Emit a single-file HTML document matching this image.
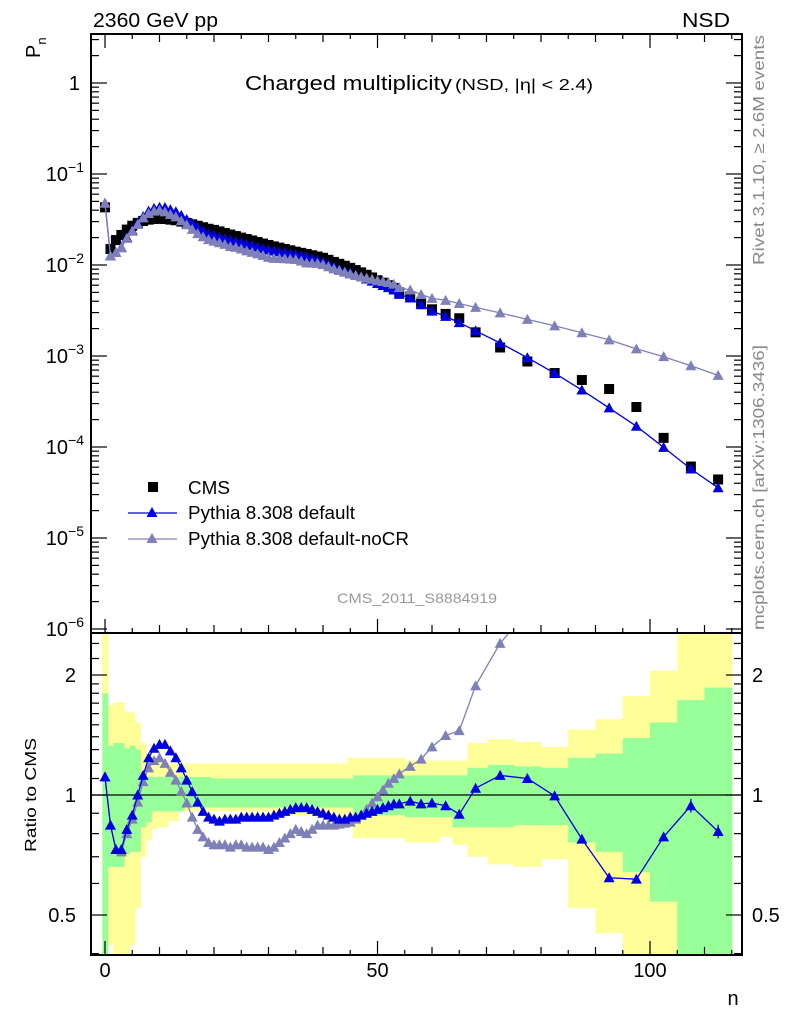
<!DOCTYPE html>
<html><head><meta charset="utf-8"><style>
html,body{margin:0;padding:0;background:#fff;}
svg{display:block;font-family:"Liberation Sans",sans-serif;}
</style></head><body>
<svg id="c" width="786" height="1024" viewBox="0 0 786 1024" xmlns="http://www.w3.org/2000/svg">
<defs>
<clipPath id="clipMain"><rect x="91" y="34" width="651" height="599"/></clipPath>
<clipPath id="clipRatio"><rect x="91" y="633" width="651" height="322"/></clipPath>
</defs>
<g id="bands" clip-path="url(#clipRatio)"></g>
<g id="ratioMarks" clip-path="url(#clipRatio)"></g>
<g id="mainMarks" clip-path="url(#clipMain)"></g>
<g id="axes"></g>
<text x="93" y="27" font-size="20" textLength="125" lengthAdjust="spacingAndGlyphs">2360 GeV pp</text>
<text x="682" y="27" font-size="20" textLength="48" lengthAdjust="spacingAndGlyphs">NSD</text>
<text transform="translate(40,58) rotate(-90)" font-size="20">P<tspan font-size="13" dy="6">n</tspan></text>
<text x="245" y="90" font-size="20" textLength="207" lengthAdjust="spacingAndGlyphs">Charged multiplicity</text>
<text x="455" y="90" font-size="16" textLength="138" lengthAdjust="spacingAndGlyphs">(NSD, |η| &lt; 2.4)</text>
<text x="337" y="603" font-size="14" fill="#999" textLength="160" lengthAdjust="spacingAndGlyphs">CMS_2011_S8884919</text>
<text transform="translate(764,265) rotate(-90)" font-size="16" fill="#888" textLength="230" lengthAdjust="spacingAndGlyphs">Rivet 3.1.10, ≥ 2.6M events</text>
<text transform="translate(764,630) rotate(-90)" font-size="16" fill="#888" textLength="285" lengthAdjust="spacingAndGlyphs">mcplots.cern.ch [arXiv:1306.3436]</text>
<text transform="translate(36,852) rotate(-90)" font-size="16" textLength="114" lengthAdjust="spacingAndGlyphs">Ratio to CMS</text>
<text x="733" y="1005" font-size="20" text-anchor="middle">n</text>
<g>
<rect x="148" y="482" width="10" height="10" fill="#000"/>
<text x="188" y="494" font-size="18" textLength="42" lengthAdjust="spacingAndGlyphs">CMS</text>
<line x1="128" y1="513" x2="177" y2="513" stroke="#0000e0" stroke-width="1.3"/>
<path d="M152,507 L157.5,517 L146.5,517 Z" fill="#0000e0"/>
<text x="188" y="519" font-size="18" textLength="167" lengthAdjust="spacingAndGlyphs">Pythia 8.308 default</text>
<line x1="128" y1="539" x2="177" y2="539" stroke="#8080b8" stroke-width="1.3"/>
<path d="M152,533 L157.5,543 L146.5,543 Z" fill="#8080b8"/>
<text x="188" y="545" font-size="18" textLength="221" lengthAdjust="spacingAndGlyphs">Pythia 8.308 default-noCR</text>
</g>
</svg>
<script>
const nVals=[0,1,2,3,4,5,6,7,8,9,10,11,12,13,14,15,16,17,18,19,20,21,22,23,24,25,26,27,28,29,30,31,32,33,34,35,36,37,38,39,40,41,42,43,44,45,46,47,48,49,50,51,52,53,54,56,58,60,62.5,65,68,72.5,77.5,82.5,87.5,92.5,97.5,102.5,107.5,112.5];
const cmsVals=[0.043,0.015,0.0188,0.0214,0.0245,0.027,0.029,0.0305,0.0315,0.032,0.0322,0.032,0.0315,0.031,0.030,0.029,0.028,0.027,0.026,0.025,0.0243,0.0234,0.0225,0.0216,0.0208,0.0200,0.0193,0.0186,0.0179,0.0172,0.0166,0.0160,0.0155,0.0150,0.0145,0.0140,0.0136,0.0132,0.0128,0.0124,0.0120,0.0114,0.0108,0.0103,0.0098,0.0093,0.0088,0.0083,0.0078,0.0073,0.0068,0.0064,0.0060,0.0056,0.0050,0.0045,0.00385,0.00326,0.0029,0.0026,0.00182,0.00124,0.00087,0.00065,0.000545,0.000434,0.000275,0.000126,0.000061,0.000044];
const ratioDefault=[1.11,0.84,0.73,0.73,0.82,0.89,1.0,1.12,1.24,1.31,1.34,1.34,1.29,1.24,1.17,1.09,1.02,0.96,0.91,0.88,0.87,0.86,0.87,0.87,0.87,0.88,0.88,0.88,0.88,0.88,0.88,0.89,0.90,0.91,0.92,0.93,0.93,0.93,0.92,0.91,0.90,0.89,0.88,0.87,0.87,0.88,0.88,0.89,0.90,0.91,0.92,0.93,0.94,0.95,0.95,0.965,0.95,0.955,0.94,0.895,1.04,1.12,1.10,0.995,0.775,0.62,0.615,0.785,0.94,0.81];
const ratioNoCR=[1.11,0.84,0.73,0.72,0.80,0.87,0.96,1.08,1.17,1.22,1.24,1.20,1.14,1.09,1.02,0.955,0.88,0.82,0.785,0.76,0.75,0.75,0.75,0.74,0.75,0.75,0.74,0.74,0.74,0.74,0.73,0.74,0.76,0.78,0.80,0.82,0.81,0.80,0.82,0.84,0.84,0.84,0.84,0.845,0.85,0.855,0.87,0.89,0.92,0.955,0.99,1.03,1.07,1.10,1.13,1.18,1.23,1.32,1.41,1.45,1.88,2.40,2.9,3.3,3.3,3.46,4.36,7.8,12.8,13.9];
const yellowHi=[3,1.68,1.71,1.71,1.62,1.61,1.52,1.35,1.27,1.21,1.21,1.21,1.20,1.20,1.20,1.20,1.20,1.20,1.20,1.20,1.20,1.20,1.20,1.20,1.20,1.20,1.20,1.20,1.20,1.20,1.20,1.20,1.20,1.20,1.20,1.20,1.20,1.20,1.20,1.20,1.20,1.20,1.20,1.20,1.20,1.24,1.24,1.24,1.24,1.24,1.24,1.24,1.24,1.24,1.24,1.22,1.22,1.22,1.22,1.22,1.35,1.38,1.36,1.32,1.46,1.55,1.77,2.05,3,3];
const yellowLo=[0.3,0.42,0.3,0.3,0.3,0.42,0.52,0.70,0.77,0.82,0.83,0.83,0.86,0.86,0.91,0.91,0.91,0.91,0.91,0.91,0.91,0.91,0.91,0.91,0.91,0.91,0.91,0.91,0.91,0.91,0.91,0.89,0.89,0.89,0.89,0.89,0.89,0.89,0.89,0.89,0.89,0.85,0.85,0.85,0.85,0.85,0.78,0.78,0.78,0.78,0.78,0.78,0.78,0.78,0.78,0.76,0.76,0.76,0.785,0.75,0.70,0.67,0.66,0.69,0.52,0.45,0.3,0.3,0.3,0.3];
const greenHi=[1.8,1.33,1.35,1.35,1.31,1.33,1.30,1.14,1.11,1.11,1.11,1.11,1.11,1.11,1.11,1.11,1.11,1.11,1.11,1.11,1.10,1.10,1.10,1.10,1.10,1.10,1.10,1.10,1.10,1.10,1.10,1.10,1.10,1.10,1.10,1.10,1.10,1.10,1.10,1.10,1.10,1.10,1.10,1.10,1.10,1.10,1.12,1.12,1.12,1.12,1.12,1.12,1.12,1.12,1.12,1.12,1.12,1.12,1.12,1.12,1.17,1.19,1.18,1.17,1.24,1.27,1.39,1.52,1.73,1.86];
const greenLo=[0.3,0.66,0.66,0.66,0.71,0.72,0.72,0.83,0.855,0.91,0.91,0.91,0.91,0.91,0.91,0.93,0.93,0.93,0.93,0.93,0.93,0.93,0.93,0.93,0.93,0.93,0.93,0.93,0.93,0.93,0.93,0.93,0.93,0.93,0.93,0.93,0.93,0.93,0.93,0.93,0.93,0.93,0.93,0.93,0.93,0.93,0.89,0.89,0.89,0.89,0.89,0.89,0.89,0.89,0.89,0.88,0.88,0.88,0.88,0.83,0.83,0.83,0.84,0.84,0.76,0.72,0.64,0.54,0.3,0.3];
const xTicks=[0,50,100];
const mainDecades=[0,-1,-2,-3,-4,-5,-6];
const ratioLabels=[0.5,1,2];

const NS='http://www.w3.org/2000/svg';
const svg=document.getElementById('c');
const X=n=>105+n*5.45;
const YM=p=>83-91*Math.log10(p);
const YR=r=>795-120*Math.log2(r);
const BLUE='#0000e0', GRAY='#8080b8';
function mk(tag,attrs,parent){const e=document.createElementNS(NS,tag);for(const k in attrs)e.setAttribute(k,attrs[k]);parent.appendChild(e);return e;}
function tri(parent,cx,cy,col){return mk('path',{d:`M${cx},${cy-5.5} L${cx+5.5},${cy+4.5} L${cx-5.5},${cy+4.5} Z`,fill:col},parent);}

const bands=document.getElementById('bands');
const rm=document.getElementById('ratioMarks');
const mm=document.getElementById('mainMarks');
const ax=document.getElementById('axes');

const edges=[];
for(let i=0;i<nVals.length;i++){
  const lo=i===0?nVals[0]-0.5:(nVals[i-1]+nVals[i])/2;
  const hi=i===nVals.length-1?115:(nVals[i]+nVals[i+1])/2;
  edges.push([lo,hi]);
}
for(let i=0;i<nVals.length;i++){
  const [lo,hi]=edges[i];
  const y=mk('rect',{x:X(lo),y:YR(yellowHi[i]),width:X(hi)-X(lo)+0.5,height:YR(yellowLo[i])-YR(yellowHi[i]),fill:'#ffff99'},bands);
  
  
}
for(let i=0;i<nVals.length;i++){
  const [lo,hi]=edges[i];
  const g=mk('rect',{x:X(lo),y:YR(greenHi[i]),width:X(hi)-X(lo)+0.5,height:YR(greenLo[i])-YR(greenHi[i]),fill:'#99ff99'},bands);
  
  
}
const one=mk('line',{x1:91,x2:742,y1:YR(1),y2:YR(1),stroke:'#000','stroke-width':1.3},bands);



function ratioSeries(arr,col,name){
  const pts=nVals.map((n,i)=>`${X(n).toFixed(1)},${YR(arr[i]).toFixed(1)}`).join(' ');
  const l=mk('polyline',{points:pts,fill:'none',stroke:col,'stroke-width':1.3},rm);
  
  
  nVals.forEach((n,i)=>{const t=tri(rm,X(n),YR(arr[i]),col);
    
    });
}
ratioSeries(ratioNoCR,GRAY,'nocr');
ratioSeries(ratioDefault,BLUE,'default');
[nVals.length-2,nVals.length-1].forEach(i=>{
  const e=mk('line',{x1:X(nVals[i]),x2:X(nVals[i]),y1:YR(ratioDefault[i]*1.04),y2:YR(ratioDefault[i]/1.04),stroke:BLUE,'stroke-width':1.3},rm);
  
  
});

function mainSeries(arr,col,name){
  const vals=nVals.map((n,i)=>cmsVals[i]*arr[i]);
  const pts=nVals.map((n,i)=>`${X(n).toFixed(1)},${YM(vals[i]).toFixed(1)}`).join(' ');
  const l=mk('polyline',{points:pts,fill:'none',stroke:col,'stroke-width':1.3},mm);
  
  
  nVals.forEach((n,i)=>{const t=tri(mm,X(n),YM(vals[i]),col);
    
    });
}
nVals.forEach((n,i)=>{
  const r=mk('rect',{x:X(n)-5,y:YM(cmsVals[i])-5,width:10,height:10,fill:'#000'},mm);
  
  
});
mainSeries(ratioDefault,BLUE,'default');
mainSeries(ratioNoCR,GRAY,'nocr');

const f1=mk('rect',{x:91,y:34,width:651,height:599,fill:'none',stroke:'#000','stroke-width':2},ax);


const f2=mk('rect',{x:91,y:633,width:651,height:322,fill:'none',stroke:'#000','stroke-width':2},ax);


function tk(x1,y1,x2,y2){mk('line',{x1,y1,x2,y2,stroke:'#000','stroke-width':1.2},ax);}
for(let n=0;n<=115;n+=5){
  const len=n%50===0?14:(n%10===0?8:5);
  [955,633].forEach(yb=>{tk(X(n),yb,X(n),yb-len);});
  tk(X(n),34,X(n),34+len);
}
xTicks.forEach(v=>{const t=mk('text',{x:X(v),y:977,'font-size':20,'text-anchor':'middle'},ax);t.textContent=v;
  
  });
for(let d=-6;d<=0;d++){
  for(let m=1;m<=9;m++){
    const y=YM(m*Math.pow(10,d)); if(y<34||y>633)continue;
    const len=m===1?16:8;
    tk(91,y,91+len,y); tk(742,y,742-len,y);
  }
}
mainDecades.forEach(d=>{
  const t=mk('text',{x:d===0?80:84,y:YM(Math.pow(10,d))+7,'font-size':20,'text-anchor':'end'},ax);
  
  
  if(d===0)t.textContent='1';
  else{t.textContent='10';const s=mk('tspan',{'font-size':14,dy:-9},t);s.textContent='−'+(-d);}
});
[0.4,0.5,0.6,0.7,0.8,0.9,1,2].forEach(r=>{
  const y=YR(r); if(y<633||y>955)return;
  const len=(r===0.5||r===1||r===2)?16:8;
  tk(91,y,91+len,y); tk(742,y,742-len,y);
});
[1.1,1.2,1.3,1.4,1.5,1.6,1.7,1.8,1.9,2.2,2.4].forEach(r=>{const y=YR(r);if(y<633)return;tk(91,y,99,y);tk(742,y,734,y);});
ratioLabels.forEach(r=>{
  const a=mk('text',{x:76,y:YR(r)+7,'font-size':20,'text-anchor':'end'},ax);a.textContent=r;
  
  
  const b=mk('text',{x:752,y:YR(r)+7,'font-size':20},ax);b.textContent=r;
  
  
});
</script>
</body></html>
